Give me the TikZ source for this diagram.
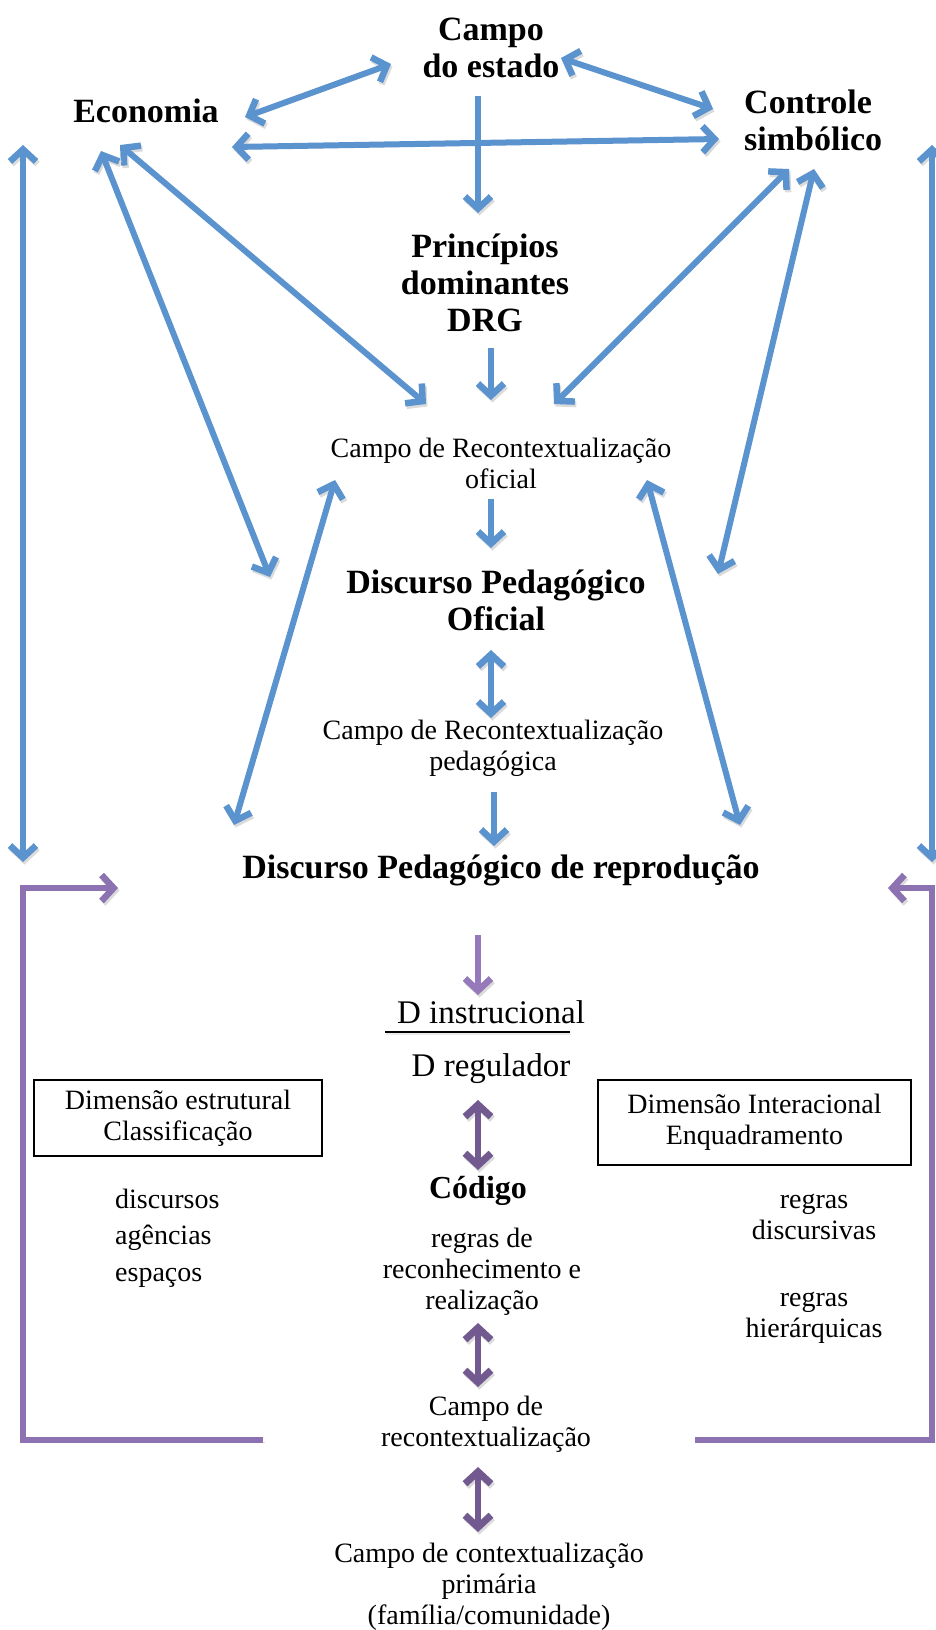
\documentclass[tikz,border=0pt]{standalone}
\usepackage{fontspec}
\setmainfont{Liberation Serif}
\usetikzlibrary{arrows.meta}

\definecolor{flowblue}{HTML}{5B93CF}
\definecolor{lilac}{HTML}{9579BA}
\definecolor{plum}{HTML}{725A90}
\definecolor{bracketpurple}{HTML}{8C72B0}

\tikzset{
  head/.style={font=\fontsize{34}{37}\selectfont\bfseries, align=center, inner sep=0pt},
  label/.style={font=\fontsize{28}{31}\selectfont, align=center, inner sep=0pt},
  dlabel/.style={font=\fontsize{33}{36}\selectfont, align=center, inner sep=0pt},
  dimbox/.style={draw, line width=1.4pt, font=\fontsize{28}{31}\selectfont, align=center, inner sep=0pt},
  shade/.style={preaction={draw=black!14, transform canvas={shift={(1.5pt,-2.5pt)}}}},
  bluelink/.style={draw=flowblue, line width=6pt, shade,
    arrows={-Straight Barb[length=12pt,width=26pt,line width=6.5pt]}},
  bluelink2/.style={bluelink, arrows={Straight Barb[length=12pt,width=26pt,line width=6.5pt]-Straight Barb[length=12pt,width=26pt,line width=6.5pt]}},
  purplelink/.style={draw=lilac, line width=6pt, shade,
    arrows={-Straight Barb[length=12pt,width=26pt,line width=6.5pt]}},
  plumlink2/.style={draw=plum, line width=6.5pt, shade,
    arrows={Straight Barb[length=12pt,width=26pt,line width=7pt]-Straight Barb[length=12pt,width=26pt,line width=7pt]}},
  bracket/.style={draw=bracketpurple, line width=6pt, shade,
    arrows={-Straight Barb[length=12pt,width=26pt,line width=6.5pt]}},
}

\begin{document}
\begin{tikzpicture}[x=1pt,y=-1pt]
\useasboundingbox (0,0) rectangle (936,1630);

% upper field: state, economy, symbolic control
\node[head] (est) at (491,48) {Campo\\do estado};
\node[head] (eco) at (146,111) {Economia};
\node[head, align=left, anchor=west] (ctrl) at (744,120) {Controle\\simbólico};
\node[head] (prin) at (485,283) {Princípios\\dominantes\\DRG};
\node[label] (cro) at (501,463) {Campo de Recontextualização\\oficial};
\node[head] (dpo) at (496,600) {Discurso Pedagógico\\Oficial};
\node[label] (crp) at (493,748) {Campo de Recontextualização\\pedagógica};
\node[head] (dpr) at (501,870) {Discurso Pedagógico de reprodução};

% lower field: discourse, code and contexts
\node[dlabel] (dinst) at (491,1012) {D instrucional};
\node[dlabel] (dreg) at (491,1069) {D regulador};
\node[dimbox, minimum width=288pt, minimum height=76pt] (boxl) at (178,1118) {Dimensão estrutural\\Classificação};
\node[dimbox, minimum width=313pt, minimum height=85pt] (boxr) at (754.5,1122.5) {Dimensão Interacional\\Enquadramento};
\node[head, font=\fontsize{32}{35}\selectfont\bfseries] (cod) at (478,1191) {Código};
\node[label] (rr) at (482,1272) {regras de\\reconhecimento e\\realização};
\node[label, font=\fontsize{28}{36.5}\selectfont, align=left, anchor=west] (dae) at (115,1238) {discursos\\agências\\espaços};
\node[label] (rd) at (814,1217) {regras\\discursivas};
\node[label] (rh) at (814,1318) {regras\\hierárquicas};
\node[label] (crc) at (486,1424) {Campo de\\recontextualização};
\node[label] (ccp) at (489,1587) {Campo de contextualização\\primária\\(família/comunidade)};

% connector end points
\coordinate (eco-e1) at (245,117);  \coordinate (est-w) at (391,64);
\coordinate (est-e) at (561,58);    \coordinate (ctrl-w1) at (713,109);
\coordinate (eco-e2) at (232,147);  \coordinate (ctrl-w2) at (719,139);
\coordinate (est-s) at (478,96);    \coordinate (prin-n) at (478,213);
\coordinate (prin-s) at (491,348);  \coordinate (cro-n) at (491,400);
\coordinate (eco-se) at (120,145);  \coordinate (cro-nw) at (426,404);
\coordinate (ctrl-sw) at (789,169); \coordinate (cro-ne) at (554,404);
\coordinate (eco-s) at (101,151);   \coordinate (eco-end) at (270,577);
\coordinate (ctrl-s) at (814,169);  \coordinate (ctrl-end) at (718,574);
\coordinate (cro-s) at (491,499);   \coordinate (dpo-n) at (491,548);
\coordinate (dpo-s) at (491,650);   \coordinate (crp-n) at (491,718);
\coordinate (crp-s) at (494,792);   \coordinate (dpr-n) at (494,846);
\coordinate (cro-sw) at (335,480);  \coordinate (dpr-nw) at (234,825);
\coordinate (cro-se) at (647,480);  \coordinate (dpr-ne) at (740,825);
\coordinate (lt) at (23,145);       \coordinate (lb) at (23,862);
\coordinate (rt) at (932,145);      \coordinate (rb) at (932,862);
\coordinate (dpr-s) at (478,935);   \coordinate (dinst-n) at (478,995);
\coordinate (dreg-s) at (478,1100); \coordinate (cod-n) at (478,1170);
\coordinate (rr-s) at (478,1323);   \coordinate (crc-n) at (478,1387);
\coordinate (crc-s) at (478,1467);  \coordinate (ccp-n) at (478,1532);
\coordinate (crc-w) at (263,1440);  \coordinate (crc-e) at (695,1440);
\coordinate (dpr-w) at (118,888);   \coordinate (dpr-e) at (888,888);
\coordinate (rule-l) at (385,1032); \coordinate (rule-r) at (570,1032);

% blue connectors
\draw[bluelink2] (eco-e1) -- (est-w);
\draw[bluelink2] (est-e) -- (ctrl-w1);
\draw[bluelink2] (eco-e2) -- (ctrl-w2);
\draw[bluelink] (est-s) -- (prin-n);
\draw[bluelink] (prin-s) -- (cro-n);
\draw[bluelink2] (eco-se) -- (cro-nw);
\draw[bluelink2] (ctrl-sw) -- (cro-ne);
\draw[bluelink2] (eco-s) -- (eco-end);
\draw[bluelink2] (ctrl-s) -- (ctrl-end);
\draw[bluelink] (cro-s) -- (dpo-n);
\draw[bluelink2] (dpo-s) -- (crp-n);
\draw[bluelink] (crp-s) -- (dpr-n);
\draw[bluelink2] (cro-sw) -- (dpr-nw);
\draw[bluelink2] (cro-se) -- (dpr-ne);
\draw[bluelink2] (lt) -- (lb);
\draw[bluelink2] (rt) -- (rb);

% purple connectors
\draw[purplelink] (dpr-s) -- (dinst-n);
\draw[plumlink2] (dreg-s) -- (cod-n);
\draw[plumlink2] (rr-s) -- (crc-n);
\draw[plumlink2] (crc-s) -- (ccp-n);
\draw[bracket] (crc-w) -- (23,1440) -- (23,888) -- (dpr-w);
\draw[bracket] (crc-e) -- (932,1440) -- (932,888) -- (dpr-e);

% rule between instructional and regulative discourse
\draw[line width=1.6pt, preaction={draw=black!8, line width=2pt, transform canvas={shift={(0.5pt,-1.5pt)}}}] (rule-l) -- (rule-r);
\end{tikzpicture}
\end{document}
